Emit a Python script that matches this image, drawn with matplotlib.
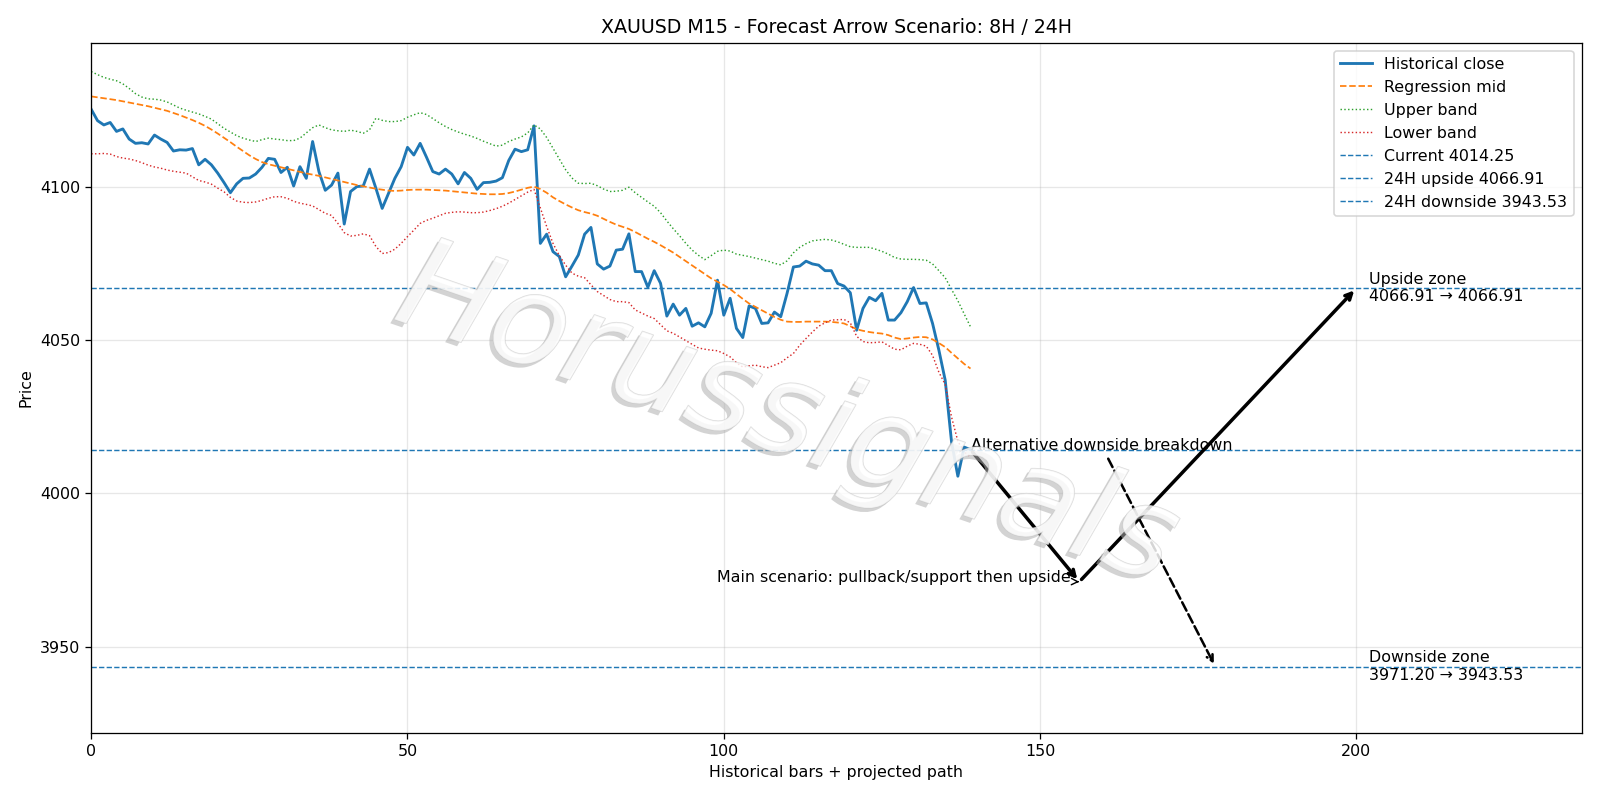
import matplotlib
matplotlib.use("Agg")
import matplotlib.pyplot as plt
import matplotlib.patheffects as pe

# historical bars (M15 closes)
close = [4125.2, 4121.5, 4120.1, 4120.9, 4118.0, 4118.8, 4115.5, 4114.1, 4114.3, 4113.9,
         4116.8, 4115.5, 4114.4, 4111.6, 4112.0, 4111.9, 4112.4, 4107.1, 4108.9, 4107.1,
         4104.4, 4101.3, 4098.0, 4100.9, 4102.7, 4102.8, 4104.1, 4106.3, 4109.2, 4108.9,
         4104.6, 4106.3, 4100.2, 4106.5, 4102.7, 4114.7, 4104.9, 4098.8, 4100.5, 4104.4,
         4087.8, 4098.4, 4100.0, 4100.2, 4105.7, 4099.5, 4092.9, 4097.8, 4102.7, 4106.5,
         4112.8, 4110.3, 4114.1, 4109.6, 4104.9, 4104.1, 4105.7, 4104.1, 4100.9, 4104.6,
         4102.7, 4099.1, 4101.3, 4101.4, 4101.8, 4102.9, 4108.5, 4112.2, 4111.4, 4112.0,
         4119.8, 4081.5, 4084.5, 4078.8, 4077.2, 4070.6, 4074.1, 4077.7, 4084.5, 4086.7,
         4074.8, 4073.1, 4074.1, 4079.3, 4079.6, 4084.6, 4072.3, 4072.3, 4067.2, 4072.6,
         4068.5, 4057.8, 4061.7, 4058.1, 4060.3, 4054.5, 4055.6, 4054.3, 4058.7, 4069.5,
         4058.1, 4063.6, 4053.8, 4050.8, 4061.1, 4060.3, 4055.4, 4055.6, 4059.1, 4057.6,
         4065.2, 4073.8, 4074.1, 4075.7, 4074.8, 4074.4, 4072.6, 4072.6, 4068.4, 4067.6,
         4065.4, 4053.2, 4060.3, 4063.9, 4062.8, 4065.2, 4056.5, 4056.5, 4058.9, 4062.5,
         4067.1, 4061.9, 4062.1, 4055.4, 4046.7, 4036.9, 4016.8, 4005.6, 4015.1, 4014.25]

mid = [4129.4, 4129.1, 4128.8, 4128.5, 4128.2, 4127.8, 4127.4, 4127.0, 4126.6, 4126.2,
       4125.7, 4125.2, 4124.7, 4124.0, 4123.3, 4122.5, 4121.7, 4120.8, 4119.8, 4118.6,
       4117.3, 4115.9, 4114.5, 4113.0, 4111.6, 4110.2, 4109.0, 4108.0, 4107.3, 4106.8,
       4106.3, 4105.8, 4105.3, 4104.8, 4104.3, 4103.9, 4103.5, 4103.0, 4102.5, 4102.0,
       4101.5, 4101.0, 4100.5, 4100.1, 4099.7, 4099.3, 4099.0, 4098.7, 4098.6, 4098.7,
       4098.9, 4099.0, 4099.0, 4099.0, 4098.9, 4098.8, 4098.7, 4098.5, 4098.3, 4098.1,
       4097.9, 4097.7, 4097.6, 4097.5, 4097.5, 4097.6, 4097.9, 4098.4, 4099.0, 4099.6,
       4100.0, 4099.2, 4098.0, 4096.5, 4095.3, 4094.2, 4093.2, 4092.3, 4091.7, 4091.2,
       4090.5, 4089.5, 4088.5, 4087.6, 4086.9, 4086.2, 4085.2, 4084.1, 4083.0, 4082.0,
       4080.9, 4079.7, 4078.5, 4077.1, 4075.7, 4074.3, 4072.9, 4071.5, 4070.1, 4069.0,
       4067.9, 4066.6, 4065.0, 4063.4, 4061.9, 4060.8, 4059.7, 4058.6, 4057.5, 4056.6,
       4056.0, 4055.9, 4055.9, 4056.0, 4056.0, 4056.0, 4056.0, 4055.9, 4055.7, 4055.4,
       4054.5, 4053.5, 4053.0, 4052.6, 4052.3, 4052.1, 4051.6, 4050.8, 4050.3, 4050.5,
       4050.8, 4051.0, 4050.9, 4050.2, 4049.0, 4047.7, 4045.8, 4044.0, 4042.2, 4040.7]

upper = [4137.5, 4136.5, 4135.6, 4135.0, 4134.5, 4133.5, 4132.0, 4130.3, 4129.2, 4128.6,
         4128.5, 4128.2, 4127.6, 4126.6, 4125.6, 4124.9, 4124.3, 4123.7, 4122.9, 4122.0,
         4120.5, 4119.0, 4117.8, 4116.6, 4115.8, 4115.2, 4114.7, 4115.3, 4115.8, 4115.5,
         4115.3, 4115.0, 4115.0, 4115.8, 4117.5, 4119.2, 4120.1, 4119.2, 4118.5, 4118.2,
         4118.0, 4118.4, 4118.0, 4117.4, 4118.5, 4122.3, 4121.6, 4121.2, 4121.2, 4121.5,
         4122.6, 4123.4, 4124.1, 4123.5, 4122.2, 4120.8, 4119.6, 4118.6, 4117.8, 4117.1,
         4116.5, 4115.7, 4114.8, 4114.0, 4113.2, 4113.5, 4114.7, 4115.5, 4116.2, 4117.5,
         4120.1, 4118.8, 4116.0, 4112.5, 4109.0, 4105.5, 4102.8, 4101.1, 4101.0, 4101.1,
         4100.3, 4099.2, 4098.4, 4098.5, 4098.8, 4099.8, 4098.0, 4096.5, 4095.0, 4093.6,
         4091.5, 4088.8, 4086.3, 4084.0, 4081.5, 4079.3, 4077.6, 4076.2, 4077.5, 4078.9,
         4079.3, 4079.0, 4078.0, 4077.6, 4077.2, 4076.7, 4076.2, 4075.7, 4075.0, 4074.5,
         4075.8, 4078.4, 4080.2, 4081.4, 4082.3, 4082.6, 4082.8, 4082.6, 4082.0, 4081.2,
         4080.4, 4080.2, 4080.2, 4080.2, 4079.6, 4078.9, 4078.0, 4076.9, 4076.4, 4076.3,
         4076.3, 4076.2, 4076.0, 4074.8, 4072.6, 4070.3, 4066.5, 4062.8, 4058.5, 4054.3]

lower = [4110.7, 4110.7, 4110.8, 4110.6, 4109.8, 4109.3, 4109.0, 4108.5, 4107.8, 4107.0,
         4106.4, 4106.0, 4105.4, 4105.0, 4104.7, 4104.4, 4103.2, 4102.0, 4101.5, 4100.8,
         4099.5, 4098.3, 4096.5, 4095.3, 4094.9, 4094.8, 4095.0, 4095.5, 4096.2, 4096.7,
         4096.7, 4096.2, 4095.2, 4094.6, 4094.2, 4093.7, 4092.5, 4091.3, 4090.6, 4088.0,
         4085.0, 4083.9, 4084.1, 4084.6, 4084.0, 4080.5, 4078.2, 4078.5, 4079.6, 4081.5,
         4083.7, 4085.8, 4088.0, 4089.0, 4089.7, 4090.5, 4091.3, 4091.6, 4091.8, 4091.7,
         4091.5, 4091.5, 4091.7, 4092.2, 4092.8, 4093.6, 4094.6, 4095.8, 4097.0, 4098.2,
         4099.1, 4093.0, 4087.0, 4081.5, 4077.5, 4074.4, 4071.8, 4070.8, 4070.3, 4068.0,
         4065.8, 4064.5, 4063.2, 4062.5, 4062.5, 4062.2, 4059.8, 4058.8, 4057.8, 4057.0,
         4055.0, 4053.0, 4052.2, 4051.0, 4049.8, 4048.6, 4047.4, 4047.0, 4046.7, 4046.5,
         4045.6, 4044.5, 4042.6, 4041.2, 4041.6, 4041.8, 4041.3, 4041.0, 4041.8, 4042.6,
         4044.2, 4045.6, 4048.3, 4050.5, 4052.6, 4054.5, 4055.6, 4056.5, 4056.6, 4056.7,
         4055.6, 4051.2, 4049.5, 4049.1, 4049.2, 4049.4, 4048.2, 4047.0, 4046.8, 4048.0,
         4048.9, 4048.6, 4048.0, 4045.0, 4039.5, 4035.5, 4024.9, 4017.0, 4013.5, 4011.9]

current = 4014.25
up_24h = 4066.91
down_24h = 3943.53
support = 3971.20

# projected path points (bar index)
start_bar = 139
pivot_bar = 156.2
up_bar = 200
alt_bar = 177.7
label_bar = 202

bars = list(range(len(close)))

fig, ax = plt.subplots(figsize=(14, 7), dpi=1600 / 14)
fig.subplots_adjust(left=0.057, right=0.9885, bottom=0.0841, top=0.9466)

ax.plot(bars, close, color='tab:blue', lw=1.8, label='Historical close')
ax.plot(bars, mid, color='tab:orange', lw=1.1, ls='--', label='Regression mid')
ax.plot(bars, upper, color='tab:green', lw=0.9, ls=':', label='Upper band')
ax.plot(bars, lower, color='tab:red', lw=0.9, ls=':', label='Lower band')

ax.axhline(current, color='tab:blue', lw=0.9, ls='--', label=f'Current {current:.2f}')
ax.axhline(up_24h, color='tab:blue', lw=0.9, ls='--', label=f'24H upside {up_24h:.2f}')
ax.axhline(down_24h, color='tab:blue', lw=0.9, ls='--', label=f'24H downside {down_24h:.2f}')

# main scenario: pullback to support, then up
ax.annotate('', xy=(pivot_bar, support), xytext=(start_bar, current),
            arrowprops=dict(arrowstyle='->', lw=2.2, color='black'))
ax.annotate('', xy=(up_bar, up_24h), xytext=(pivot_bar, support),
            arrowprops=dict(arrowstyle='->', lw=2.2, color='black'))
ax.annotate('Main scenario: pullback/support then upside',
            xy=(pivot_bar, support), xytext=(pivot_bar - 1.3, support),
            ha='right', va='baseline',
            arrowprops=dict(arrowstyle='->', lw=0.9, color='black'))

# alternative breakdown
ax.annotate('Alternative downside breakdown',
            xy=(alt_bar, down_24h), xytext=(start_bar, current),
            arrowprops=dict(arrowstyle='->', lw=1.6, ls='--', color='black'))

ax.text(label_bar, up_24h, f'Upside zone\n{up_24h:.2f} \u2192 {up_24h:.2f}', va='center')
ax.text(label_bar, down_24h, f'Downside zone\n{support:.2f} \u2192 {down_24h:.2f}', va='center')

# watermark
fig.text(0.492, 0.478, 'Horussignals', fontsize=80, style='italic',
         rotation=-19, ha='center', va='center', color='white', alpha=0.6,
         zorder=10,
         path_effects=[pe.SimplePatchShadow(offset=(-2.5, -2.5), shadow_rgbFace='#b0b0b0', alpha=0.55),
                       pe.withStroke(linewidth=0.8, foreground='#c4c4c4')])

ax.set_xlim(0, 235.6)
ax.set_ylim(3922.0, 4146.9)
ax.set_yticks([3950, 4000, 4050, 4100])
ax.set_title('XAUUSD M15 - Forecast Arrow Scenario: 8H / 24H')
ax.set_xlabel('Historical bars + projected path')
ax.set_ylabel('Price')
ax.grid(True, alpha=0.3)
ax.legend(loc='upper right')

fig.savefig('out.png', dpi=1600 / 14)
